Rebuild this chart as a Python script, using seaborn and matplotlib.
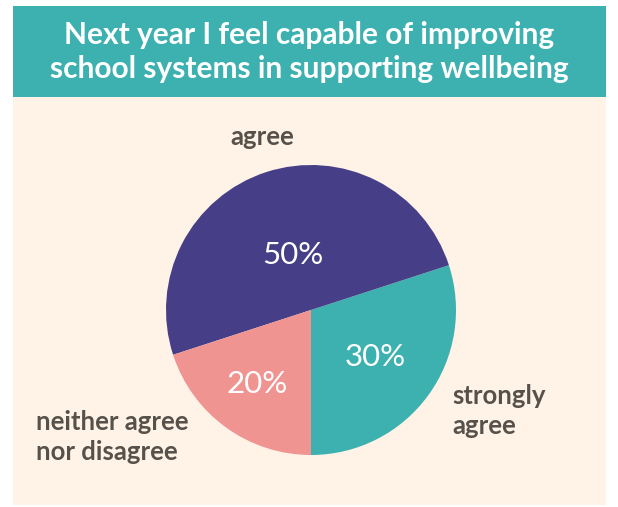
import matplotlib
matplotlib.use("Agg")
import matplotlib.pyplot as plt
import matplotlib.patches as mpatches
import numpy as np
import seaborn as sns

# data
categories = ["strongly\nagree", "agree", "neither agree\nnor disagree"]
values = [30, 50, 20]
colors = ["#3db0b0", "#463f87", "#f09492"]
title = "Next year I feel capable of improving\nschool systems in supporting wellbeing"

sns.set_theme(style="white")
plt.rcParams["font.family"] = ["Lato", "DejaVu Sans"]

W, H = 618, 507
fig = plt.figure(figsize=(W / 100, H / 100), dpi=100)
fig.patch.set_facecolor("white")

# background panels (pixel coords -> figure fraction)
def px_rect(x0, y0, x1, y1, color):
    fig.patches.append(mpatches.Rectangle((x0 / W, 1 - y1 / H), (x1 - x0) / W, (y1 - y0) / H,
                                          transform=fig.transFigure, facecolor=color,
                                          edgecolor="none", zorder=-5))

px_rect(13, 97, 606, 505, "#fef3e6")
px_rect(13, 6, 606, 97, "#3db0b0")

fig.text(309 / W, 1 - 52 / H, title, ha="center", va="center", color="white",
         fontsize=21.5, fontweight="bold", linespacing=1.3)

# pie axes
cx, cy, r = 311, 310, 145
ax = fig.add_axes([(cx - r) / W, 1 - (cy + r) / H, 2 * r / W, 2 * r / H])
ax.set_facecolor("none")
wedges, texts, autotexts = ax.pie(values, colors=colors, startangle=-90, counterclock=True,
                                  autopct="%d%%", pctdistance=0.55,
                                  wedgeprops=dict(linewidth=0),
                                  textprops=dict(color="white", fontsize=22.5))
ax.set_aspect("equal")
ax.set_xlim(-1, 1)
ax.set_ylim(-1, 1)
ax.axis("off")

# per-wedge label radius for the percentages
pct_r = [0.55, 0.40, 0.63]
for w, t, pr in zip(wedges, autotexts, pct_r):
    ang = np.deg2rad((w.theta1 + w.theta2) / 2)
    t.set_position((pr * np.cos(ang), pr * np.sin(ang)))
    t.set_fontweight("normal")

# category labels outside the pie
label_pos = [(452, 411, "left"), (262, 137, "center"), (36, 437, "left")]
for lab, (x, y, ha) in zip(categories, label_pos):
    fig.text(x / W, 1 - y / H, lab, ha=ha, va="center", color="#57514b",
             fontsize=18.5, fontweight="bold", linespacing=1.3)

fig.savefig("out.png", dpi=100)
